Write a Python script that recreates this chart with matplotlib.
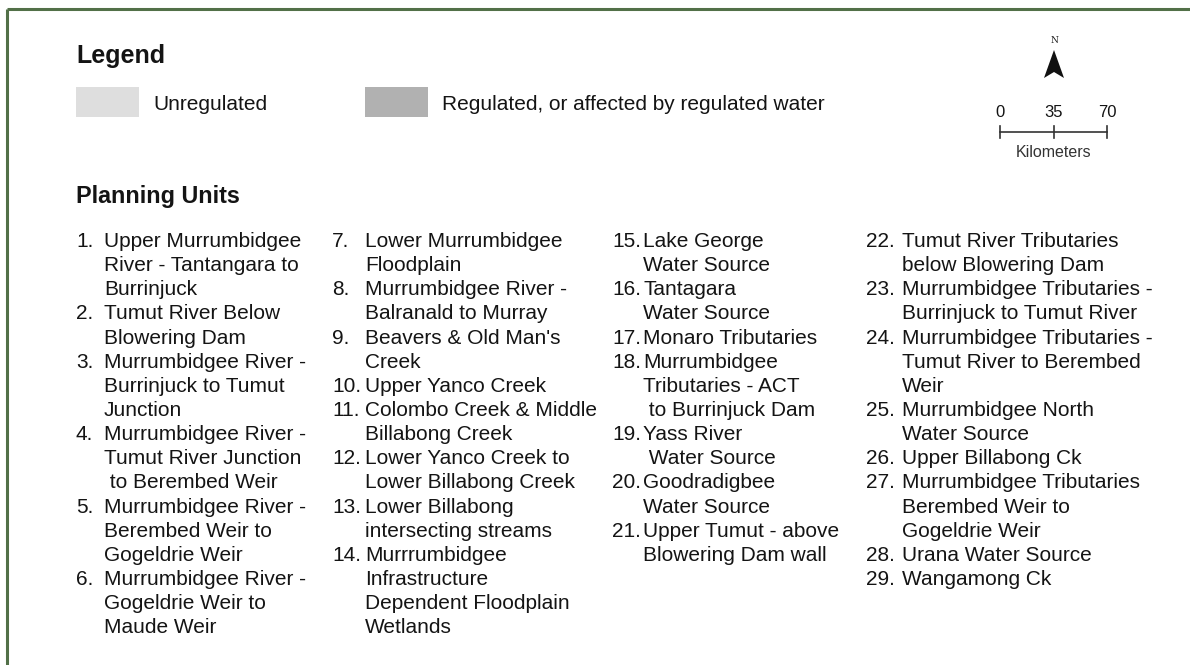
import matplotlib
matplotlib.use("Agg")
import matplotlib.pyplot as plt
from matplotlib.patches import Rectangle, Polygon

plt.rcParams['font.family'] = ['Liberation Sans', 'DejaVu Sans']

# legend entries
legend_labels = ["Unregulated", "Regulated, or affected by regulated water"]
legend_colors = ["#dedede", "#b1b1b1"]

# scale bar
scale_ticks = [0, 35, 70]
scale_unit = "Kilometers"

# planning units, wrapped as in the original, one list per column
col1 = [("1.", ["Upper Murrumbidgee", "River - Tantangara to", "Burrinjuck"]),
        ("2.", ["Tumut River Below", "Blowering Dam"]),
        ("3.", ["Murrumbidgee River -", "Burrinjuck to Tumut", "Junction"]),
        ("4.", ["Murrumbidgee River -", "Tumut River Junction", " to Berembed Weir"]),
        ("5.", ["Murrumbidgee River -", "Berembed Weir to", "Gogeldrie Weir"]),
        ("6.", ["Murrumbidgee River -", "Gogeldrie Weir to", "Maude Weir"])]
col2 = [("7.", ["Lower Murrumbidgee", "Floodplain"]),
        ("8.", ["Murrumbidgee River -", "Balranald to Murray"]),
        ("9.", ["Beavers & Old Man's", "Creek"]),
        ("10.", ["Upper Yanco Creek"]),
        ("11.", ["Colombo Creek & Middle", "Billabong Creek"]),
        ("12.", ["Lower Yanco Creek to", "Lower Billabong Creek"]),
        ("13.", ["Lower Billabong", "intersecting streams"]),
        ("14.", ["Murrrumbidgee", "Infrastructure", "Dependent Floodplain", "Wetlands"])]
col3 = [("15.", ["Lake George", "Water Source"]),
        ("16.", ["Tantagara", "Water Source"]),
        ("17.", ["Monaro Tributaries"]),
        ("18.", ["Murrumbidgee", "Tributaries - ACT", " to Burrinjuck Dam"]),
        ("19.", ["Yass River", " Water Source"]),
        ("20.", ["Goodradigbee", "Water Source"]),
        ("21.", ["Upper Tumut - above", "Blowering Dam wall"])]
col4 = [("22.", ["Tumut River Tributaries", "below Blowering Dam"]),
        ("23.", ["Murrumbidgee Tributaries -", "Burrinjuck to Tumut River"]),
        ("24.", ["Murrumbidgee Tributaries -", "Tumut River to Berembed", "Weir"]),
        ("25.", ["Murrumbidgee North", "Water Source"]),
        ("26.", ["Upper Billabong Ck"]),
        ("27.", ["Murrumbidgee Tributaries", "Berembed Weir to", "Gogeldrie Weir"]),
        ("28.", ["Urana Water Source"]),
        ("29.", ["Wangamong Ck"])]

columns = [(col1, 76, 104), (col2, 332, 365), (col3, 612, 643), (col4, 866, 902)]

W, H = 1190, 665
fig = plt.figure(figsize=(W / 100, H / 100), dpi=100)
ax = fig.add_axes([0, 0, 1, 1])
ax.set_xlim(0, W)
ax.set_ylim(H, 0)
ax.axis('off')

txt = "#141414"
fs = 15

# frame (only top and left edges are inside the picture)
ax.plot([7, W + 5], [8.5, 8.5], color="#527048", lw=2.2, solid_capstyle='butt')
ax.plot([7, 7], [8.5, H + 5], color="#527048", lw=2.2, solid_capstyle='butt')

# legend block
ax.text(76, 63, "Legend", fontsize=18, fontweight='bold', color=txt, va='baseline')
for (lab, c, x0) in zip(legend_labels, legend_colors, [76, 365]):
    ax.add_patch(Rectangle((x0, 87), 63, 30, facecolor=c, edgecolor='none'))
    ax.text(x0 + 77, 110, lab, fontsize=fs, color=txt, va='baseline')

# north arrow
ax.text(1054, 43, "N", fontsize=6.5, family='DejaVu Serif', ha='center', va='baseline', color=txt)
ax.add_patch(Polygon([(1054, 50), (1064, 78), (1054, 72), (1044, 78)], closed=True,
                     facecolor="#111111", edgecolor='none'))

# scale bar
sx0, sx1 = 1000, 1107
def km2px(v):
    return sx0 + (sx1 - sx0) * v / scale_ticks[-1]
ax.plot([km2px(scale_ticks[0]), km2px(scale_ticks[-1])], [132, 132], color="#333333", lw=1.2)
for t in scale_ticks:
    ax.plot([km2px(t), km2px(t)], [126, 138], color="#333333", lw=1.2)
    ax.text(km2px(t), 117, str(t), fontsize=12, ha='center', va='baseline', color=txt)
ax.text(km2px(scale_ticks[-1] / 2), 157, scale_unit, fontsize=11.5, ha='center', va='baseline', color="#333333")

# planning units
ax.text(76, 203, "Planning Units", fontsize=16.8, fontweight='bold', color=txt, va='baseline')
y0, lh = 247, 24.15
for items, nx, tx in columns:
    row = 0
    for num, lines in items:
        ax.text(nx, y0 + row * lh, num, fontsize=fs, color=txt, va='baseline')
        for ln in lines:
            ax.text(tx, y0 + row * lh, ln, fontsize=fs, color=txt, va='baseline')
            row += 1

fig.savefig("out.png", dpi=100, facecolor='white')
